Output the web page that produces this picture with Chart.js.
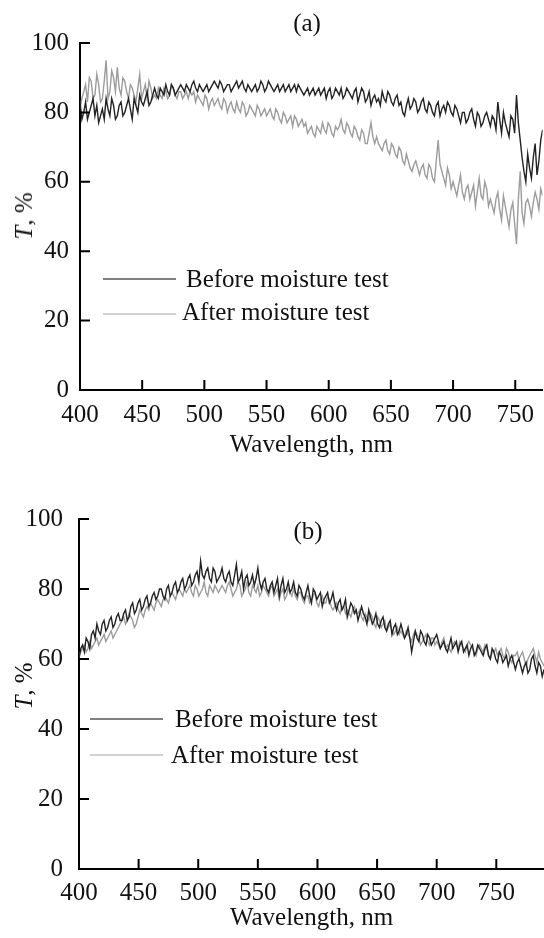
<!doctype html>
<html lang="en">
  <head>
    <title>Transmittance before and after moisture test</title>
    <style>
      body {
        margin: 0;
        background: #ffffff;
      }

      .figure {
        position: relative;
        width: 544px;
        height: 938px;
        font-family: "Liberation Serif", "Times New Roman", serif;
        color: #111111;
      }

      .figure canvas {
        position: absolute;
        left: 0;
      }

      .txt {
        position: absolute;
        font-size: 25px;
        line-height: 30px;
        white-space: nowrap;
      }

      .panel-label {
        transform: translateX(-50%);
      }

      .y-title {
        transform: translate(-50%, -50%) rotate(-90deg);
      }

      .legend-line {
        position: absolute;
        width: 73px;
        height: 2px;
      }

      .line-before {
        background: #808080;
      }

      .line-after {
        background: #d2d2d2;
      }
    </style>
  </head>

  <body>
    <div class="figure">
      <canvas id="chartA" width="544" height="470" style="top: 0"></canvas>
      <canvas id="chartB" width="544" height="468" style="top: 470px"></canvas>

      <div class="txt panel-label" style="left: 307px; top: 8px">(a)</div>
      <div class="txt panel-label" style="left: 308px; top: 516px">(b)</div>

      <div class="txt y-title" style="left: 24px; top: 216px"><i>T</i>, %</div>
      <div class="txt y-title" style="left: 24px; top: 686px"><i>T</i>, %</div>

      <!-- legend (a) -->
      <div class="legend-line line-before" style="left: 103px; top: 278px"></div>
      <div class="txt" style="left: 186px; top: 264px">Before moisture test</div>
      <div class="legend-line line-after" style="left: 103px; top: 313px"></div>
      <div class="txt" style="left: 182px; top: 297px">After moisture test</div>

      <!-- legend (b) -->
      <div class="legend-line line-before" style="left: 90px; top: 718px"></div>
      <div class="txt" style="left: 175px; top: 704px">Before moisture test</div>
      <div class="legend-line line-after" style="left: 90px; top: 754px"></div>
      <div class="txt" style="left: 171px; top: 740px">After moisture test</div>
    </div>

    <script src="https://cdn.jsdelivr.net/npm/chart.js@4.4.1/dist/chart.umd.min.js"></script>
    <script type="text/javascript">
      // Tick labels
      const yTicks = [0, 20, 40, 60, 80, 100];
      const xTicksA = [400, 450, 500, 550, 600, 650, 700, 750];
      const xTicksB = [400, 450, 500, 550, 600, 650, 700, 750];

      // Wavelength grid: spectra sampled every 1.5 nm from 400 nm
      const wlStart = 400;
      const wlStep = 1.5;

      // Panel (a), T in % (400 ... 772 nm)
      const beforeA = [
        83, 78, 80, 83, 78, 80, 82, 84, 79, 82, 77, 79, 81, 78, 84, 81, 79, 84, 82, 78,
        79, 82, 83, 79, 80, 82, 84, 81, 78, 84, 82, 80, 85, 83, 82, 84, 86, 82, 83, 85,
        87, 85, 84, 87, 86, 85, 88, 86, 85, 88, 87, 85, 86, 87, 88, 87, 86, 88, 87, 86,
        88, 89, 87, 86, 88, 87, 86, 87, 88, 86, 87, 88, 89, 88, 87, 89, 88, 86, 87, 88,
        88, 86, 87, 88, 89, 87, 88, 89, 87, 86, 88, 87, 86, 87, 88, 86, 87, 89, 88, 86,
        87, 89, 88, 87, 86, 87, 88, 86, 87, 88, 86, 87, 88, 86, 87, 88, 86, 88, 87, 86,
        85, 86, 87, 85, 86, 87, 85, 86, 87, 85, 86, 87, 84, 86, 87, 84, 85, 87, 86, 85,
        87, 84, 85, 87, 86, 85, 84, 86, 87, 83, 85, 87, 86, 83, 84, 86, 82, 84, 85, 83,
        84, 82, 86, 84, 83, 86, 85, 83, 82, 84, 85, 82, 83, 80, 79, 82, 84, 81, 82, 84,
        83, 80, 81, 83, 84, 81, 80, 83, 82, 80, 79, 82, 83, 79, 81, 82, 80, 83, 82, 80,
        79, 82, 81, 79, 77, 80, 80, 77, 78, 80, 81, 78, 76, 80, 79, 76, 77, 79, 80, 78,
        76, 79, 78, 75, 83, 78, 74, 80, 77, 75, 73, 79, 78, 74, 85, 77, 72, 67, 63, 60,
        68, 64, 61, 67, 71, 62, 66, 72, 75,
      ];
      const afterA = [
        81, 84, 86, 88, 83, 90, 89, 84, 85, 91, 88, 83, 84, 89, 95, 84, 86, 92, 90, 86,
        93, 87, 85, 90, 89, 86, 84, 88, 87, 85, 83, 87, 91, 84, 86, 88, 84, 89, 87, 84,
        85, 84, 87, 85, 84, 87, 86, 84, 85, 88, 87, 85, 84, 86, 86, 84, 85, 86, 84, 86,
        85, 86, 83, 85, 84, 83, 82, 85, 84, 81, 83, 84, 82, 83, 84, 82, 81, 84, 83, 80,
        82, 83, 81, 80, 83, 81, 80, 83, 82, 79, 80, 82, 81, 80, 79, 82, 81, 79, 80, 81,
        79, 80, 81, 79, 78, 81, 80, 78, 77, 80, 79, 77, 78, 79, 76, 79, 78, 76, 77, 78,
        76, 77, 74, 75, 76, 74, 73, 76, 75, 74, 77, 75, 74, 77, 76, 74, 73, 76, 75, 76,
        78, 75, 74, 77, 76, 74, 73, 76, 75, 73, 72, 75, 74, 71, 71, 74, 77, 73, 71, 73,
        71, 70, 69, 71, 72, 69, 68, 71, 70, 68, 67, 70, 69, 66, 65, 68, 66, 64, 63, 65,
        66, 64, 62, 64, 65, 62, 61, 65, 64, 61, 60, 66, 72, 65, 63, 61, 59, 64, 62, 58,
        60, 58, 56, 59, 62, 57, 55, 58, 59, 55, 57, 59, 53, 57, 61, 56, 55, 60, 58, 53,
        55, 53, 51, 55, 57, 52, 49, 56, 53, 50, 47, 52, 54, 48, 42, 55, 63, 51, 48, 54,
        55, 53, 50, 54, 57, 55, 52, 58, 56,
      ];

      // Panel (b), T in % (400 ... 790 nm)
      const beforeB = [
        60, 63, 64, 62, 66, 65, 63, 67, 68, 66, 70, 68, 67, 70, 71, 68, 69, 71, 72, 69,
        70, 72, 73, 71, 71, 73, 74, 71, 72, 75, 76, 73, 74, 76, 77, 74, 75, 77, 78, 75,
        76, 78, 79, 77, 78, 80, 80, 78, 77, 80, 81, 78, 79, 81, 82, 79, 80, 82, 83, 80,
        81, 83, 84, 81, 82, 84, 85, 82, 88, 84, 83, 85, 86, 83, 82, 86, 85, 82, 83, 84,
        86, 83, 82, 84, 85, 82, 81, 84, 87, 82, 83, 85, 80, 83, 84, 81, 82, 84, 81, 83,
        86, 82, 80, 82, 83, 80, 79, 81, 82, 79, 81, 83, 78, 81, 83, 79, 80, 82, 79, 80,
        82, 79, 78, 81, 80, 78, 77, 79, 81, 78, 76, 80, 79, 77, 78, 79, 75, 77, 78, 79,
        76, 77, 79, 76, 74, 76, 77, 74, 75, 77, 72, 74, 76, 75, 73, 74, 71, 73, 75, 73,
        72, 70, 74, 72, 70, 71, 73, 70, 69, 71, 72, 69, 68, 70, 71, 67, 69, 70, 67, 68,
        70, 68, 66, 67, 69, 66, 62, 65, 68, 66, 65, 68, 67, 65, 64, 67, 66, 64, 65, 66,
        67, 65, 63, 64, 65, 63, 62, 64, 66, 63, 64, 65, 62, 64, 65, 62, 63, 64, 61, 63,
        64, 61, 62, 64, 63, 62, 61, 63, 64, 61, 60, 63, 62, 60, 59, 62, 61, 59, 60, 61,
        58, 60, 61, 59, 57, 59, 60, 58, 56, 58, 59, 56, 57, 60, 61, 58, 56, 59, 58, 55,
        57,
      ];
      const afterB = [
        61, 62, 63, 64, 62, 63, 65, 63, 64, 65, 66, 64, 65, 66, 67, 65, 66, 67, 68, 66,
        67, 68, 69, 70, 71, 72, 70, 71, 73, 72, 71, 69, 70, 72, 74, 73, 72, 74, 75, 74,
        76, 75, 74, 76, 77, 76, 75, 77, 78, 77, 76, 78, 79, 78, 77, 79, 80, 79, 78, 80,
        79, 80, 81, 79, 78, 81, 80, 78, 79, 80, 82, 79, 78, 81, 80, 79, 81, 80, 79, 80,
        81, 80, 79, 81, 82, 80, 78, 79, 80, 82, 81, 78, 79, 80, 82, 79, 78, 81, 80, 79,
        81, 78, 79, 81, 80, 79, 78, 80, 81, 78, 79, 80, 77, 79, 80, 77, 78, 80, 79, 78,
        80, 78, 77, 79, 79, 77, 76, 78, 78, 76, 77, 78, 79, 76, 75, 77, 78, 76, 76, 78,
        77, 75, 74, 75, 76, 74, 73, 75, 75, 73, 74, 73, 72, 74, 75, 73, 73, 74, 72, 71,
        73, 72, 71, 73, 72, 70, 69, 72, 71, 69, 70, 71, 68, 69, 70, 68, 67, 68, 69, 67,
        68, 67, 66, 68, 67, 66, 65, 67, 68, 67, 66, 64, 65, 66, 67, 65, 64, 66, 66, 64,
        65, 64, 63, 65, 66, 63, 64, 63, 62, 64, 65, 64, 63, 65, 64, 63, 62, 64, 65, 64,
        63, 62, 61, 63, 64, 63, 62, 64, 63, 61, 60, 62, 62, 63, 61, 62, 63, 61, 60, 63,
        62, 60, 59, 61, 61, 62, 60, 61, 62, 60, 58, 60, 61, 62, 63, 61, 59, 62, 60, 59,
        58,
      ];

      const FONT = "'Liberation Serif', 'Times New Roman', serif";

      function toPoints(values) {
        return values.map((v, i) => ({ x: wlStart + i * wlStep, y: v }));
      }

      // Small tick marks pointing into the plot
      const innerTicks = {
        id: "innerTicks",
        afterDatasetsDraw(chart) {
          const { ctx, chartArea, scales } = chart;
          ctx.save();
          ctx.strokeStyle = "#000";
          ctx.lineWidth = 2;
          ctx.beginPath();
          scales.x.ticks.forEach((t) => {
            const px = scales.x.getPixelForValue(t.value);
            if (px <= chartArea.left + 1) return;
            ctx.moveTo(px, chartArea.bottom);
            ctx.lineTo(px, chartArea.bottom - 10);
          });
          scales.y.ticks.forEach((t) => {
            if (t.value === 0) return;
            const py = scales.y.getPixelForValue(t.value);
            ctx.moveTo(chartArea.left, py);
            ctx.lineTo(chartArea.left + 10, py);
          });
          ctx.stroke();
          ctx.restore();
        },
      };

      function makeChart(id, cfg) {
        return new Chart(document.getElementById(id), {
          type: "line",
          data: {
            datasets: [
              {
                label: "Before moisture test",
                data: toPoints(cfg.before),
                borderColor: "#222222",
                borderWidth: 1.4,
              },
              {
                label: "After moisture test",
                data: toPoints(cfg.after),
                borderColor: "#9c9c9c",
                borderWidth: 1.4,
              },
            ],
          },
          options: {
            responsive: false,
            animation: false,
            layout: { padding: { top: cfg.top, right: 0, left: 0, bottom: 0 } },
            elements: {
              point: { radius: 0 },
              line: { tension: 0 },
            },
            plugins: {
              legend: { display: false },
              tooltip: { enabled: false },
            },
            scales: {
              x: {
                type: "linear",
                min: 400,
                max: cfg.xMax,
                afterBuildTicks: (s) => {
                  s.ticks = cfg.xTicks.map((v) => ({ value: v }));
                },
                afterFit: (s) => {
                  s.height = cfg.xHeight;
                },
                grid: { display: false, drawTicks: false },
                border: { color: "#000", width: 2 },
                ticks: {
                  padding: cfg.xPad,
                  maxRotation: 0,
                  autoSkip: false,
                  color: "#111",
                  font: { family: FONT, size: 25 },
                },
                title: {
                  display: true,
                  text: "Wavelength, nm",
                  color: "#111",
                  font: { family: FONT, size: 25 },
                  padding: { top: 0, bottom: cfg.titlePad },
                },
              },
              y: {
                min: 0,
                max: 100,
                afterBuildTicks: (s) => {
                  s.ticks = yTicks.map((v) => ({ value: v }));
                },
                afterFit: (s) => {
                  s.width = cfg.yWidth;
                },
                grid: { display: false, drawTicks: false },
                border: { color: "#000", width: 2 },
                ticks: {
                  padding: cfg.yPad,
                  color: "#111",
                  font: { family: FONT, size: 25 },
                },
              },
            },
          },
          plugins: [innerTicks],
        });
      }

      makeChart("chartA", {
        before: beforeA,
        after: afterA,
        xTicks: xTicksA,
        xMax: 772,
        top: 43,
        xHeight: 80,
        yWidth: 80,
        xPad: 10,
        yPad: 11,
        titlePad: 10,
      });

      makeChart("chartB", {
        before: beforeB,
        after: afterB,
        xTicks: xTicksB,
        xMax: 790,
        top: 49,
        xHeight: 69,
        yWidth: 79,
        xPad: 9,
        yPad: 16,
        titlePad: 5,
      });
    </script>
  </body>
</html>
